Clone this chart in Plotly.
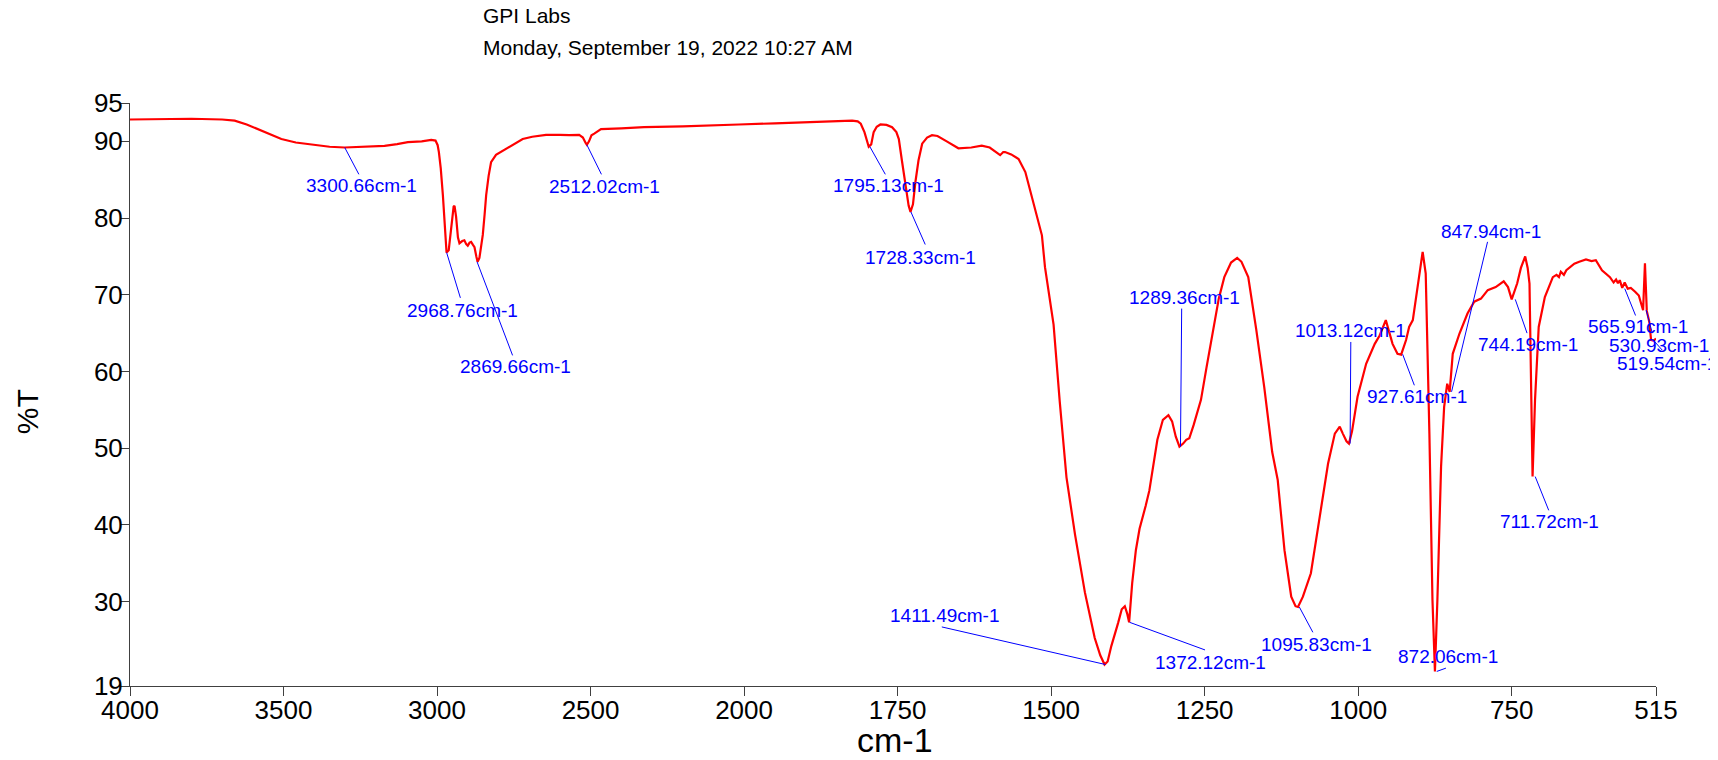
import plotly.graph_objects as go

# ---------------- data ----------------
wavenumber = [
    4000, 3900, 3800, 3700, 3659, 3620, 3583, 3540, 3507, 3460, 3409, 3350, 3301, 3240, 3171, 3130,
    3095, 3050, 3019, 3005, 2998, 2994, 2988, 2981, 2975, 2969, 2962, 2954, 2946, 2943, 2938, 2932,
    2927, 2918, 2911, 2905, 2900, 2894, 2889, 2883, 2878, 2872, 2868, 2862, 2856, 2851, 2845, 2840,
    2832, 2824, 2808, 2775, 2750, 2721, 2690, 2645, 2600, 2569, 2537, 2525, 2516, 2512, 2505, 2497,
    2488, 2466, 2400, 2326, 2200, 2100, 2017, 1950, 1900, 1824, 1815, 1810, 1804, 1800, 1797, 1793,
    1789, 1784, 1778, 1768, 1759, 1752, 1748, 1743, 1737, 1732, 1729, 1725, 1721, 1716, 1710, 1702,
    1694, 1685, 1670, 1651, 1630, 1613, 1600, 1590, 1583, 1578, 1575, 1565, 1553, 1542, 1532, 1526,
    1515, 1510, 1496, 1486, 1475, 1461, 1445, 1429, 1420, 1413, 1408, 1402, 1395, 1391, 1385, 1380,
    1376, 1373, 1368, 1362, 1356, 1352, 1346, 1340, 1333, 1327, 1318, 1309, 1303, 1297, 1291, 1285,
    1280, 1275, 1268, 1256, 1247, 1237, 1227, 1218, 1207, 1197, 1190, 1179, 1166, 1153, 1140, 1131,
    1125, 1120, 1109, 1102, 1098, 1090, 1077, 1063, 1049, 1038, 1030, 1025, 1019, 1015, 1010, 1001,
    987, 973, 965, 955, 944, 936, 930, 922, 917, 911, 903, 895, 890, 884, 879, 875,
    871, 865, 860, 855, 851, 846, 835, 822, 811, 800, 789, 776, 763, 756, 750, 741,
    735, 728, 724, 721, 718, 716, 712, 706, 696, 683, 677, 673, 670, 665, 661, 655,
    648, 640, 629, 620, 613, 603, 597, 590, 584, 580, 577, 574, 570, 566, 561, 556,
    549, 543, 539, 536, 533, 530, 526, 523, 519, 515,
]
transmittance = [
    92.85, 92.9, 92.95, 92.85, 92.7, 92.2, 91.6, 90.9, 90.3, 89.85, 89.55, 89.3, 89.2, 89.25, 89.4, 89.65,
    89.9, 90.0, 90.2, 90.1, 89.5, 88.6, 86.5, 83.0, 79.0, 75.5, 75.8, 78.6, 81.5, 81.6, 80.2, 77.5,
    76.7, 77.0, 77.1, 76.6, 76.4, 76.8, 76.9, 76.5, 76.2, 75.0, 74.3, 74.8, 76.5, 77.8, 80.5, 83.0,
    85.5, 87.3, 88.25, 89.0, 89.6, 90.3, 90.6, 90.85, 90.85, 90.8, 90.85, 90.5, 89.8, 89.55, 90.0, 90.8,
    91.0, 91.6, 91.7, 91.85, 91.95, 92.05, 92.2, 92.35, 92.5, 92.7, 92.6, 92.3, 91.2, 90.0, 89.3, 89.6,
    91.2, 91.9, 92.2, 92.15, 91.85, 91.2, 90.3, 87.5, 84.25, 81.6, 80.8, 81.8, 84.7, 87.5, 89.7, 90.5,
    90.8, 90.7, 90.0, 89.1, 89.2, 89.45, 89.2, 88.6, 88.2, 88.6, 88.6, 88.3, 87.7, 86.0, 83.0, 81.0,
    77.75, 73.6, 66.1, 56.1, 46.2, 38.7, 31.2, 25.25, 23.0, 21.8, 22.2, 24.2, 26.0, 27.2, 29.0, 29.4,
    28.4, 27.3, 32.4, 36.7, 39.5, 40.6, 42.5, 44.5, 48.0, 51.1, 53.7, 54.3, 53.5, 51.5, 50.2, 50.6,
    51.1, 51.3, 53.0, 56.3, 60.5, 65.0, 69.5, 72.3, 74.2, 74.8, 74.3, 72.3, 65.5, 58.0, 49.5, 45.85,
    40.8, 36.7, 30.65, 29.4, 29.3, 30.65, 33.7, 41.1, 48.0, 51.9, 52.8, 51.9, 50.9, 50.6, 52.2, 56.7,
    61.0, 63.6, 64.7, 66.7, 63.6, 62.3, 62.2, 64.1, 65.8, 66.7, 71.0, 75.6, 72.75, 51.9, 30.2, 20.9,
    30.2, 47.6, 55.4, 58.4, 57.35, 62.3, 64.95, 67.55, 69.1, 69.5, 70.6, 71.0, 71.75, 71.0, 69.4, 71.5,
    73.5, 75.0, 73.5, 71.45, 56.3, 46.3, 56.3, 65.8, 69.7, 72.3, 72.6, 72.3, 73.0, 72.6, 73.2, 73.6,
    74.05, 74.3, 74.6, 74.4, 74.5, 73.2, 72.8, 72.3, 71.6, 72.0, 71.5, 71.9, 70.9, 71.6, 70.8, 70.9,
    70.4, 69.9, 68.8, 68.0, 74.1, 67.9, 66.5, 64.1, 64.0, 64.3,
]

# labelled peaks
peak_wn = [3300.66, 2968.76, 2869.66, 2512.02, 1795.13, 1728.33, 1411.49, 1372.12, 1289.36,
           1095.83, 1013.12, 927.61, 872.06, 847.94, 744.19, 711.72, 565.91, 530.93, 519.54]
peak_t = [89.2, 75.5, 74.3, 89.55, 89.3, 80.8, 21.8, 27.3, 50.2,
          29.3, 50.6, 62.25, 20.9, 57.35, 69.4, 46.3, 70.8, 68.0, 64.1]
peak_labels = [f"{w:.2f}cm-1" for w in peak_wn]

x_tick_vals = [4000, 3500, 3000, 2500, 2000, 1750, 1500, 1250, 1000, 750, 515]
y_tick_vals = [19, 30, 40, 50, 60, 70, 80, 90, 95]

# ---------------- layout positions for the peak labels ----------------
# (end of leader line, centre of label) in (cm-1, %T)
line_end = [(3254.6, 85.7), (2924, 69.6), (2754, 62.1), (2464.6, 85.7), (1770, 85.7),
            (1705, 76.55), (1678, 26.7), (1249.4, 23.7), (1287.4, 68.2), (1073.8, 26.0),
            (1012, 63.85), (908.5, 58.2), (857.1, 21.33), (789.3, 76.9), (725, 65.0),
            (689.7, 41.9), (548.3, 67.3), (521, 65.0), (505, 62.8)]
label_pos = [(3246.7, 84.3), (2917.4, 68.0), (2745, 60.6), (2454, 84.1), (1764.6, 84.3),
             (1712.6, 74.8), (1672.5, 28.2), (1240.9, 22.1), (1282.3, 69.7), (1067.8, 24.45),
             (1012.8, 65.4), (903.9, 56.7), (853.9, 22.84), (784, 78.2), (723, 63.5),
             (688.6, 40.4), (544.2, 65.9), (510.6, 63.4), (496.8, 61.1)]

X_MIN, X_MAX = 4000, 515
Y_MIN, Y_MAX = 19, 95


def to_u(w):
    """Instrument-style split wavenumber axis: 500 cm-1 per division above 2000, 250 below."""
    return (4000 - w) / 500 if w >= 2000 else 4 + (2000 - w) / 250


U0, U1 = to_u(X_MIN), to_u(X_MAX)


def paper_x(w):
    return (to_u(w) - U0) / (U1 - U0)


def paper_y(t):
    return (t - Y_MIN) / (Y_MAX - Y_MIN)


FONT = "Liberation Sans, Arial, Helvetica, sans-serif"
BLUE = "#0000ff"

fig = go.Figure()
fig.add_trace(go.Scatter(
    x=[to_u(w) for w in wavenumber], y=transmittance, mode="lines",
    line=dict(color="#ff0000", width=2.2), hoverinfo="skip", showlegend=False,
))

shapes = []
annotations = []
for w, t, (lw, lt), (tw, tt), txt in zip(peak_wn, peak_t, line_end, label_pos, peak_labels):
    shapes.append(dict(type="line", xref="paper", yref="paper",
                       x0=paper_x(w), y0=paper_y(t), x1=paper_x(lw), y1=paper_y(lt),
                       line=dict(color=BLUE, width=1)))
    annotations.append(dict(x=paper_x(tw), y=paper_y(tt), xref="paper", yref="paper", text=txt,
                            showarrow=False, xanchor="center", yanchor="middle",
                            font=dict(family=FONT, size=19, color=BLUE)))

# the page body adds an 8 px margin, so layout pixels are screen pixels minus 8
OFF = 8
W, H = 1718, 760
L, T = 130 - OFF, 102.5 - OFF
pw, ph = 1526.5, 583.5
R, B = W - L - pw, H - T - ph


def px_to_paper(xp, yp):
    return (xp - OFF - L) / pw, (T + ph - (yp - OFF)) / ph


gx, gy = px_to_paper(481, 15)
annotations.append(dict(x=gx, y=gy, xref="paper", yref="paper", xanchor="left", yanchor="middle",
                        text="GPI Labs", showarrow=False, font=dict(family=FONT, size=21, color="black")))
gx, gy = px_to_paper(481, 47)
annotations.append(dict(x=gx, y=gy, xref="paper", yref="paper", xanchor="left", yanchor="middle",
                        text="Monday, September 19, 2022 10:27 AM", showarrow=False,
                        font=dict(family=FONT, size=21, color="black")))
gx, gy = px_to_paper(895, 740)
annotations.append(dict(x=gx, y=gy, xref="paper", yref="paper", xanchor="center", yanchor="middle",
                        text="cm-1", showarrow=False, font=dict(family=FONT, size=34, color="black")))
gx, gy = px_to_paper(27, 412)
annotations.append(dict(x=gx, y=gy, xref="paper", yref="paper", xanchor="center", yanchor="middle",
                        text="%T", textangle=-90, showarrow=False,
                        font=dict(family=FONT, size=30, color="black")))

fig.update_layout(
    width=W, height=H,
    margin=dict(l=L, r=R, t=T, b=B, pad=0, autoexpand=False),
    paper_bgcolor="white", plot_bgcolor="white",
    shapes=shapes, annotations=annotations,
    showlegend=False,
    xaxis=dict(range=[U0, U1], tickvals=[to_u(v) for v in x_tick_vals],
               ticktext=[str(v) for v in x_tick_vals], showgrid=False, zeroline=False,
               showline=True, linecolor="#404040", linewidth=1, ticks="outside", ticklen=9,
               tickcolor="#404040", tickfont=dict(family=FONT, size=26, color="black"),
               ticklabelstandoff=-8, automargin=False),
    yaxis=dict(range=[Y_MIN, Y_MAX], tickvals=y_tick_vals, ticktext=[str(v) for v in y_tick_vals],
               showgrid=False, zeroline=False, showline=True, linecolor="#404040", linewidth=1,
               ticks="outside", ticklen=8, tickcolor="#404040",
               tickfont=dict(family=FONT, size=26, color="black"),
               ticklabelstandoff=-7, automargin=False),
)

fig.write_html("out.html")
